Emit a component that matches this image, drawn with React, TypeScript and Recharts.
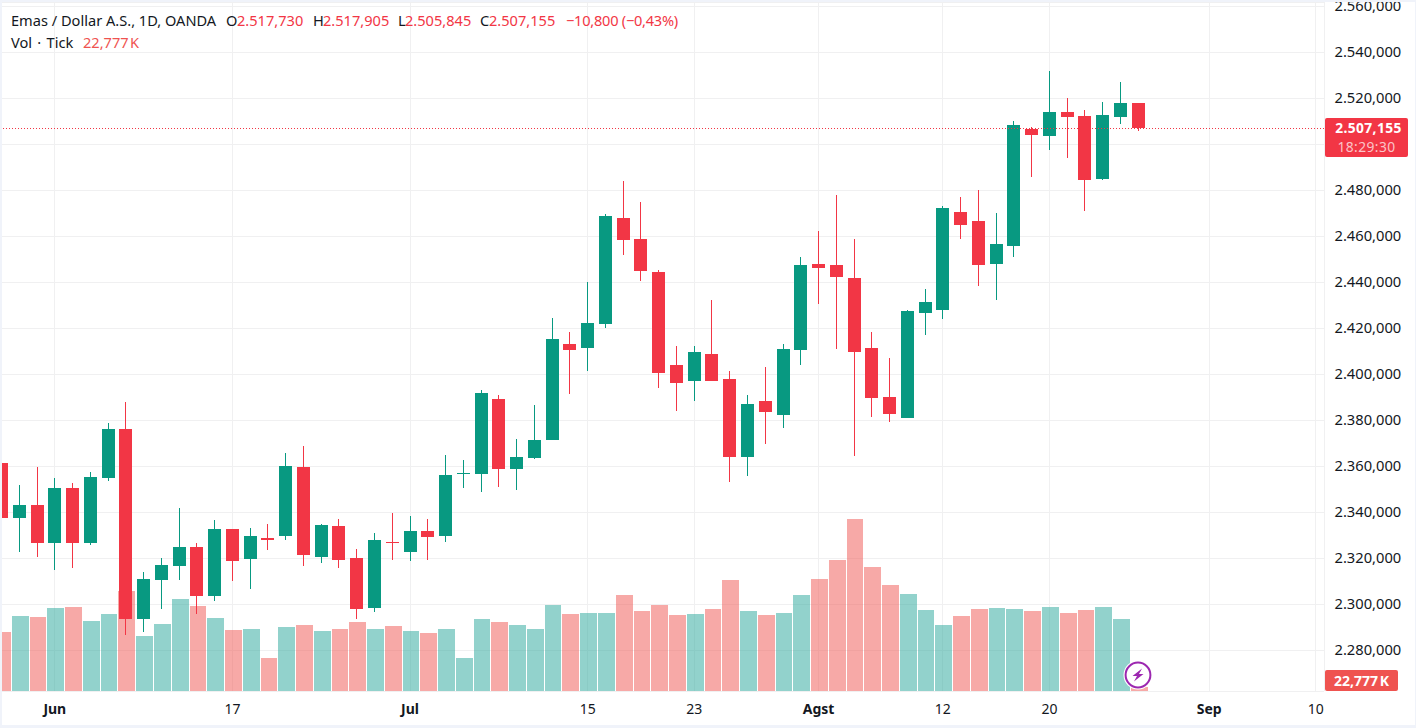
import React from "react";
import { ComposedChart, Bar, XAxis, YAxis, CartesianGrid, ReferenceLine } from "recharts";

const FONT = '"Noto Sans", sans-serif';
const GREEN = "#089981";
const RED = "#F23645";
const TEXT = "#131722";

const opens = [2361.4,2337.5,2343.2,2326.6,2350.5,2326.6,2354.9,2376.2,2293.6,2310.5,2316.6,2324.9,2303.6,2332.7,2319.7,2328.8,2329.7,2359.7,2320.5,2334.0,2320.1,2298.4,2327.1,2322.7,2331.9,2329.7,2356.6,2356.7,2389.3,2358.8,2363.6,2371.4,2413.2,2411.4,2421.9,2468.0,2458.8,2444.5,2404.0,2397.1,2408.8,2397.9,2364.0,2388.4,2382.3,2410.6,2447.9,2447.5,2441.9,2411.4,2390.1,2381.0,2426.7,2428.0,2470.6,2466.6,2448.0,2455.8,2506.6,2503.6,2514.0,2512.3,2484.9,2511.9,2517.73];
const closes = [2337.5,2343.2,2326.6,2350.5,2326.6,2355.3,2376.2,2293.6,2311.0,2317.1,2324.9,2303.6,2332.7,2318.8,2329.7,2327.9,2360.1,2321.4,2334.5,2319.2,2298.0,2327.9,2326.6,2331.9,2329.2,2356.2,2357.1,2391.9,2358.8,2364.0,2371.4,2415.3,2410.6,2422.3,2468.8,2458.4,2444.9,2400.6,2396.2,2409.7,2397.1,2364.0,2387.1,2383.6,2411.0,2447.5,2446.2,2442.3,2409.7,2389.7,2382.7,2427.5,2431.4,2472.3,2464.9,2447.5,2456.7,2508.4,2504.0,2514.0,2511.9,2484.5,2512.7,2517.9,2507.155];
const highs = [2361.6,2351.9,2359.7,2354.9,2352.7,2357.5,2378.8,2387.9,2314.0,2320.1,2341.9,2326.6,2336.6,2332.7,2333.2,2334.9,2365.8,2368.8,2334.9,2337.1,2324.0,2331.0,2339.7,2338.4,2337.1,2364.9,2362.7,2393.2,2391.0,2371.9,2386.7,2424.5,2418.4,2440.1,2469.7,2484.0,2474.9,2445.3,2412.3,2412.3,2432.3,2401.4,2391.0,2403.2,2413.2,2451.0,2462.3,2478.0,2458.8,2418.4,2407.1,2427.9,2437.1,2473.2,2477.1,2480.1,2470.1,2510.1,2507.5,2531.9,2520.1,2514.9,2518.4,2527.1,2517.905];
const lows = [2334.5,2322.7,2320.5,2314.9,2315.8,2325.8,2353.6,2286.6,2288.0,2298.0,2310.5,2295.8,2301.4,2310.1,2306.6,2323.6,2327.9,2316.6,2317.9,2315.8,2293.6,2296.6,2319.2,2318.8,2319.2,2327.1,2350.5,2348.8,2351.0,2349.7,2363.2,2371.4,2391.4,2401.4,2420.1,2451.9,2440.6,2394.0,2384.0,2388.4,2397.1,2353.2,2355.8,2369.7,2376.7,2404.0,2430.6,2411.0,2364.5,2381.4,2379.3,2381.0,2417.1,2424.0,2458.8,2438.4,2432.3,2451.0,2485.8,2497.5,2494.0,2471.0,2484.5,2508.8,2505.845];
const volumes = [313,397,392,440,445,371,408,530,291,355,487,450,387,323,328,175,339,350,318,328,366,328,344,318,307,328,175,381,366,350,328,456,408,413,413,509,424,456,403,408,434,588,424,403,413,509,593,694,911,657,562,514,429,350,397,434,440,434,424,445,413,429,445,381,22.777];

const tickIndexes = [3, 13, 23, 33, 39, 46, 53, 59, 68, 74];
const tickLabels = ["Jun", "17", "Jul", "15", "23", "Agst", "12", "20", "Sep", "10"];
const monthLabels = ["Jun", "Jul", "Agst", "Sep"];
const priceTicks = [2280, 2300, 2320, 2340, 2360, 2380, 2400, 2420, 2440, 2460, 2480, 2500, 2520, 2540, 2560];
const tickUnderPriceLabel = 2500;
const lastClose = 2507.155;

const data = opens.map((open, i) => ({
  index: i,
  open,
  close: closes[i],
  high: highs[i],
  low: lows[i],
  range: [lows[i], highs[i]],
  volume: volumes[i],
}));

const formatPrice = (v: number) => {
  if (v === tickUnderPriceLabel) return "";
  const s = v.toFixed(3);
  return `${s[0]}.${s.slice(1, 4)},${s.slice(5)}`;
};

function Candle(props: any) {
  const { x, y, width, height, payload } = props;
  const { open, close, high, low } = payload;
  const unit = height / (high - low);
  const color = close >= open ? GREEN : RED;
  const top = Math.round(y + (high - Math.max(open, close)) * unit - 0.2);
  const bottom = Math.max(top + 1, Math.round(y + (high - Math.min(open, close)) * unit));
  const cx = Math.floor(x + width / 2 + 0.38);
  return (
    <g shapeRendering="crispEdges">
      <rect x={cx} y={y} width={1} height={Math.max(height, 1)} fill={color} />
      <rect x={cx - 6} y={top} width={13} height={bottom - top} fill={color} />
    </g>
  );
}

function VolumeBar(props: any) {
  const { x, y, width, height, payload } = props;
  const up = payload.close >= payload.open;
  return (
    <rect x={x + 0.48} y={y} width={width} height={height} shapeRendering="crispEdges"
      fill={up ? "#26a69a" : "#ef5350"} fillOpacity={0.5} />
  );
}

function LastPriceLine(props: any) {
  const { x1, x2, y1 } = props;
  const yy = Math.round(y1) + 0.5;
  return <line x1={x1} x2={x2} y1={yy} y2={yy} stroke={RED} strokeWidth={1} strokeDasharray="1 2" />;
}

function XTick(props: any) {
  const { x, y, payload } = props;
  const label = tickLabels[tickIndexes.indexOf(payload.value)];
  return (
    <text x={x} y={y} textAnchor="middle" fontFamily={FONT} fontSize={14} fill={TEXT}
      fontWeight={monthLabels.includes(label) ? 700 : 400} dominantBaseline="central">
      {label}
    </text>
  );
}

const legendBase: React.CSSProperties = {
  position: "absolute", fontFamily: FONT, fontSize: 14.6, lineHeight: "18px", whiteSpace: "nowrap",
};

function Txt({ x, y, c, ws, ls, children }: { x: number; y: number; c: string; ws?: number; ls?: number; children: React.ReactNode }) {
  return <span style={{ ...legendBase, left: x, top: y - 9, color: c, wordSpacing: ws, letterSpacing: ls }}>{children}</span>;
}

export default function App() {
  return (
    <div style={{ position: "absolute", left: 0, top: 0, width: 1416, height: 728, background: "#fff", overflow: "hidden" }}>
      <ComposedChart width={1416} height={728} data={data} margin={{ top: 2, right: 0, bottom: 0, left: 0 }}>
        <CartesianGrid stroke="#f0f0f1" strokeWidth={1} shapeRendering="crispEdges" xAxisId="price" yAxisId="price" />
        <XAxis xAxisId="price" dataKey="index" type="number" scale="linear" domain={[-0.0867, 74.46]}
          ticks={tickIndexes} interval={0} height={37} tickLine={false} axisLine={false} tickSize={0} tickMargin={17}
          tick={<XTick />} allowDataOverflow />
        <XAxis xAxisId="volume" dataKey="index" type="number" scale="linear" domain={[-0.0867, 74.46]}
          ticks={tickIndexes} hide allowDataOverflow />
        <YAxis yAxisId="price" orientation="right" type="number" domain={[2262.3, 2561.87]} ticks={priceTicks}
          interval={0} width={92} tickLine={false} axisLine={false} tickSize={0} tickMargin={10.5}
          tickFormatter={formatPrice} allowDataOverflow
          tick={{ fill: TEXT, fontSize: 14.7, fontFamily: FONT, dy: -0.6 }} />
        <YAxis yAxisId="volume" hide type="number" domain={[0, 3650]} />
        <ReferenceLine xAxisId="price" yAxisId="price" y={lastClose} shape={<LastPriceLine />} />
        <Bar xAxisId="volume" yAxisId="volume" dataKey="volume" barSize={16.76} isAnimationActive={false} shape={<VolumeBar />} />
        <Bar xAxisId="price" yAxisId="price" dataKey="range" barSize={13} isAnimationActive={false} shape={<Candle />} />
      </ComposedChart>

      {/* frame */}
      <div style={{ position: "absolute", left: 0, top: 0, width: 1416, height: 2, background: "#f0f3fa" }} />
      <div style={{ position: "absolute", left: 0, top: 0, width: 2, height: 728, background: "#f0f3fa" }} />
      <div style={{ position: "absolute", left: 1415, top: 0, width: 1, height: 728, background: "#f0f3fa" }} />
      <div style={{ position: "absolute", left: 0, top: 725, width: 1416, height: 3, background: "#f0f3fa" }} />

      {/* legend */}
      <Txt x={11} y={20} c={TEXT}>Emas / Dollar A.S., 1D, OANDA</Txt>
      <Txt x={226} y={20} c={TEXT}>O</Txt>
      <Txt x={237} y={20} c={RED}>2.517,730</Txt>
      <Txt x={313} y={20} c={TEXT}>H</Txt>
      <Txt x={323} y={20} c={RED}>2.517,905</Txt>
      <Txt x={398} y={20} c={TEXT}>L</Txt>
      <Txt x={405} y={20} c={RED}>2.505,845</Txt>
      <Txt x={480} y={20} c={TEXT}>C</Txt>
      <Txt x={489} y={20} c={RED}>2.507,155</Txt>
      <Txt x={566} y={20} c={RED} ls={-0.25}>−10,800 (−0,43%)</Txt>
      <Txt x={11} y={42} c={TEXT} ws={1.5}>Vol · Tick</Txt>
      <Txt x={83} y={42} c="#ef5350" ws={-2.5}>22,777 K</Txt>

      {/* price label */}
      <div style={{ position: "absolute", left: 1325, top: 118, width: 83, height: 39, background: RED, borderRadius: 2, fontFamily: FONT, fontSize: 13.8, letterSpacing: 0.4, textAlign: "center", color: "#fff" }}>
        <div style={{ height: 19, lineHeight: "19px", fontWeight: 700, paddingLeft: 4 }}>2.507,155</div>
        <div style={{ height: 19, lineHeight: "19px", color: "#fbc4c8" }}>18:29:30</div>
      </div>
      {/* volume label */}
      <div style={{ position: "absolute", left: 1325, top: 670, width: 73, height: 21, lineHeight: "21px", background: "#ef5350", borderRadius: 2, fontFamily: FONT, fontSize: 14, fontWeight: 700, wordSpacing: -2, textAlign: "center", color: "#fff" }}>22,777 K</div>

      {/* bolt badge */}
      <svg style={{ position: "absolute", left: 1122, top: 659 }} width={32} height={32} viewBox="0 0 32 32">
        <circle cx={16} cy={16} r={14.5} fill="#fff" />
        <circle cx={16} cy={16} r={12.4} fill="#fff" stroke="#9c27b0" strokeWidth={2} />
        <path d="M20 9.5 L10.5 17 H15 L12 22.5 L21.5 15 H17 Z" fill="#9c27b0" />
      </svg>
    </div>
  );
}
